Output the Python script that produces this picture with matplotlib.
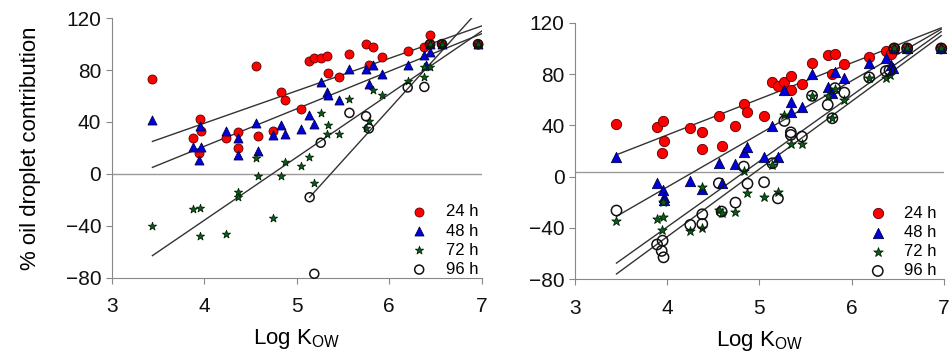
import matplotlib.pyplot as plt
import numpy as np

plt.rcParams['font.family'] = ['Liberation Sans', 'DejaVu Sans']

# ---- left panel data (Log Kow vs % oil droplet contribution)
L24_x = [3.44, 3.88, 3.95, 3.96, 3.94, 4.24, 4.37, 4.37, 4.56, 4.58, 4.74, 4.83, 4.87, 5.05,
         5.13, 5.19, 5.26, 5.33, 5.34, 5.46, 5.57, 5.75, 5.82, 5.78, 5.92, 6.20, 6.38, 6.44,
         6.44, 6.57, 6.96]
L24_y = [73, 27.6, 42, 32.8, 16, 27.6, 32.5, 20, 83, 29.4, 33, 63, 57, 50,
         87, 89, 89, 91, 78, 75, 92, 100, 98, 84, 90, 94.5, 98, 107,
         100, 100, 100]
L48_x = [3.44, 3.88, 3.95, 3.96, 3.94, 4.24, 4.37, 4.37, 4.56, 4.58, 4.74, 4.83, 4.87, 5.05,
         5.13, 5.19, 5.26, 5.33, 5.34, 5.46, 5.57, 5.75, 5.82, 5.78, 5.92, 6.20, 6.38, 6.40,
         6.44, 6.44, 6.57, 6.96]
L48_y = [41.8, 20.6, 36.6, 21, 11, 32.8, 27.6, 14.7, 39, 17.5, 30, 38, 31, 34.6,
         45, 38.7, 71, 63, 61, 57, 80.5, 81, 84, 69, 77, 84, 91.6, 84,
         94, 100, 100, 100]
L72_x = [3.44, 3.88, 3.95, 3.95, 4.24, 4.37, 4.37, 4.56, 4.58, 4.74, 4.83, 4.87, 5.05, 5.13,
         5.19, 5.26, 5.33, 5.34, 5.46, 5.57, 5.75, 5.78, 5.82, 5.92, 6.20, 6.38, 6.38, 6.44,
         6.44, 6.57, 6.96]
L72_y = [-40.5, -27, -26, -47.7, -46, -14, -18, 12, -2, -34, -2, 9, 6, 13,
         -7, 47, 31, 38, 30.5, 58, 35.6, 41, 65, 61, 71.5, 75, 82.6, 82,
         100, 100, 100]
L96_x = [5.14, 5.19, 5.26, 5.57, 5.75, 5.78, 6.20, 6.38, 6.44, 6.57, 6.96]
L96_y = [-18, -77, 24, 47, 44.4, 35, 66.6, 67, 100, 100, 100]

# ---- right panel data
R24_x = [3.45, 3.89, 3.95, 3.96, 3.94, 4.25, 4.38, 4.38, 4.56, 4.59, 4.74, 4.83, 4.87, 5.05,
         5.14, 5.20, 5.27, 5.34, 5.34, 5.46, 5.57, 5.74, 5.82, 5.79, 5.92, 6.19, 6.37, 6.43,
         6.46, 6.60, 6.97]
R24_y = [40.8, 38.4, 43, 27.8, 18.2, 38.2, 34.5, 21.8, 47.3, 23.6, 39.5, 56.4, 50.4, 47.5,
         74, 70.6, 74, 78.4, 67.5, 72.2, 89, 94.8, 95.3, 79.7, 87.5, 93, 98, 96,
         100, 100, 100]
R48_x = [3.45, 3.89, 3.95, 3.96, 3.96, 4.25, 4.38, 4.56, 4.59, 4.74, 4.83, 4.87, 5.05, 5.14,
         5.20, 5.27, 5.34, 5.34, 5.46, 5.57, 5.74, 5.82, 5.79, 5.92, 6.19, 6.37, 6.43, 6.45,
         6.46, 6.60, 6.97]
R48_y = [15.6, -4.7, -10.4, -16, -18.5, -3.4, -9.9, 10.4, -5.2, 9.6, 19.5, 23.4, 15.6, 39.5,
         15.6, 67.5, 58, 50.4, 54.5, 80, 69.6, 81.8, 65, 77, 88.8, 92.7, 87, 84.4,
         100, 100, 100]
R72_x = [3.45, 3.89, 3.95, 3.95, 3.94, 4.25, 4.38, 4.38, 4.56, 4.59, 4.74, 4.83, 4.87, 5.05,
         5.14, 5.20, 5.27, 5.34, 5.46, 5.57, 5.74, 5.79, 5.82, 5.92, 6.19, 6.37, 6.41,
         6.46, 6.60, 6.97]
R72_y = [-35, -33, -31.7, -19.5, -42, -42.3, -40.3, -7.8, -26, -28.6, -27.8, 4.7, -12.5, -15.6,
         9, -11.7, 47.8, 25.5, 25.5, 63, 63, 45.5, 68, 60, 77, 77, 79,
         100, 100, 100]
R96_x = [3.45, 3.89, 3.95, 3.94, 3.96, 4.25, 4.38, 4.38, 4.56, 4.59, 4.74, 4.83, 4.87, 5.05,
         5.14, 5.20, 5.27, 5.34, 5.34, 5.46, 5.57, 5.74, 5.79, 5.82, 5.92, 6.19, 6.37, 6.41,
         6.46, 6.60, 6.97]
R96_y = [-26.5, -53, -50, -58, -63, -37.7, -29.4, -37, -5.2, -27.3, -20.3, 7.8, -5.5, -4.4,
         10.4, -17, 43.4, 34.5, 32.5, 31.2, 63, 56, 45.5, 69, 65.5, 77.4, 82.3, 83,
         100, 100, 100]

# regression lines: start/end (x, y) for 24, 48, 72, 96 h
L_fit_x0 = [3.44, 3.44, 3.44, 5.14]
L_fit_y0 = [25, 5, -63, -18]
L_fit_x1 = [7.0, 7.0, 7.0, 6.89]
L_fit_y1 = [114, 108, 110, 120]
R_fit_x0 = [3.45, 3.45, 3.45, 3.45]
R_fit_y0 = [17, -31, -67.5, -76]
R_fit_x1 = [6.97, 6.97, 6.97, 6.97]
R_fit_y1 = [116, 115, 113, 110]

labels = ['24 h', '48 h', '72 h', '96 h']
ref_line = [0, 3.5]


def panel(ax, series, fx0, fy0, fx1, fy1, hline, ms, leg_anchor):
    for i in range(4):
        ax.plot([fx0[i], fx1[i]], [fy0[i], fy1[i]], color='#333333', lw=1.0, zorder=2)
    ax.axhline(hline, color='#999999', lw=1.0, zorder=1)
    (x24, y24), (x48, y48), (x72, y72), (x96, y96) = series
    ax.scatter(x24, y24, s=ms, c='#ff0000', edgecolors='#550000', linewidths=0.6,
               marker='o', label=labels[0], zorder=3, clip_on=False)
    ax.scatter(x48, y48, s=ms, c='#0000dd', edgecolors='#000044', linewidths=0.6,
               marker='^', label=labels[1], zorder=4, clip_on=False)
    ax.scatter(x72, y72, s=ms * 0.9, c='#0b5d1e', edgecolors='#002200', linewidths=0.6,
               marker='*', label=labels[2], zorder=5, clip_on=False)
    ax.scatter(x96, y96, s=ms, facecolors='none', edgecolors='#111111', linewidths=1.1,
               marker='o', label=labels[3], zorder=6, clip_on=False)
    ax.set_xlim(3, 7)
    ax.set_ylim(-80, 120)
    ax.set_xticks([3, 4, 5, 6, 7])
    ax.set_yticks([-80, -40, 0, 40, 80, 120])
    for s in ['top', 'right']:
        ax.spines[s].set_visible(False)
    for s in ['left', 'bottom']:
        ax.spines[s].set_color('#888888')
    ax.tick_params(colors='#888888', labelcolor='#111111', labelsize=15, length=4)
    ax.tick_params(axis='x', pad=10)
    ax.set_xlabel('Log K$_{\\mathregular{OW}}$', fontsize=16, labelpad=8)
    ax.legend(loc='lower right', bbox_to_anchor=leg_anchor, frameon=False, fontsize=12,
              handletextpad=0.6, labelspacing=0.25, borderaxespad=0, borderpad=0.2)


fig = plt.figure(figsize=(9.51, 3.56), dpi=100)
ax1 = fig.add_axes([0.1175, 0.22, 0.389, 0.729])
ax2 = fig.add_axes([0.6046, 0.216, 0.388, 0.72])

panel(ax1, [(L24_x, L24_y), (L48_x, L48_y), (L72_x, L72_y), (L96_x, L96_y)],
      L_fit_x0, L_fit_y0, L_fit_x1, L_fit_y1, ref_line[0], 42, (1.0, -0.01))
panel(ax2, [(R24_x, R24_y), (R48_x, R48_y), (R72_x, R72_y), (R96_x, R96_y)],
      R_fit_x0, R_fit_y0, R_fit_x1, R_fit_y1, ref_line[1], 55, (0.99, -0.01))
ax1.set_ylabel('% oil droplet contribution', fontsize=16, labelpad=18)

fig.savefig('out.png', dpi=100)
